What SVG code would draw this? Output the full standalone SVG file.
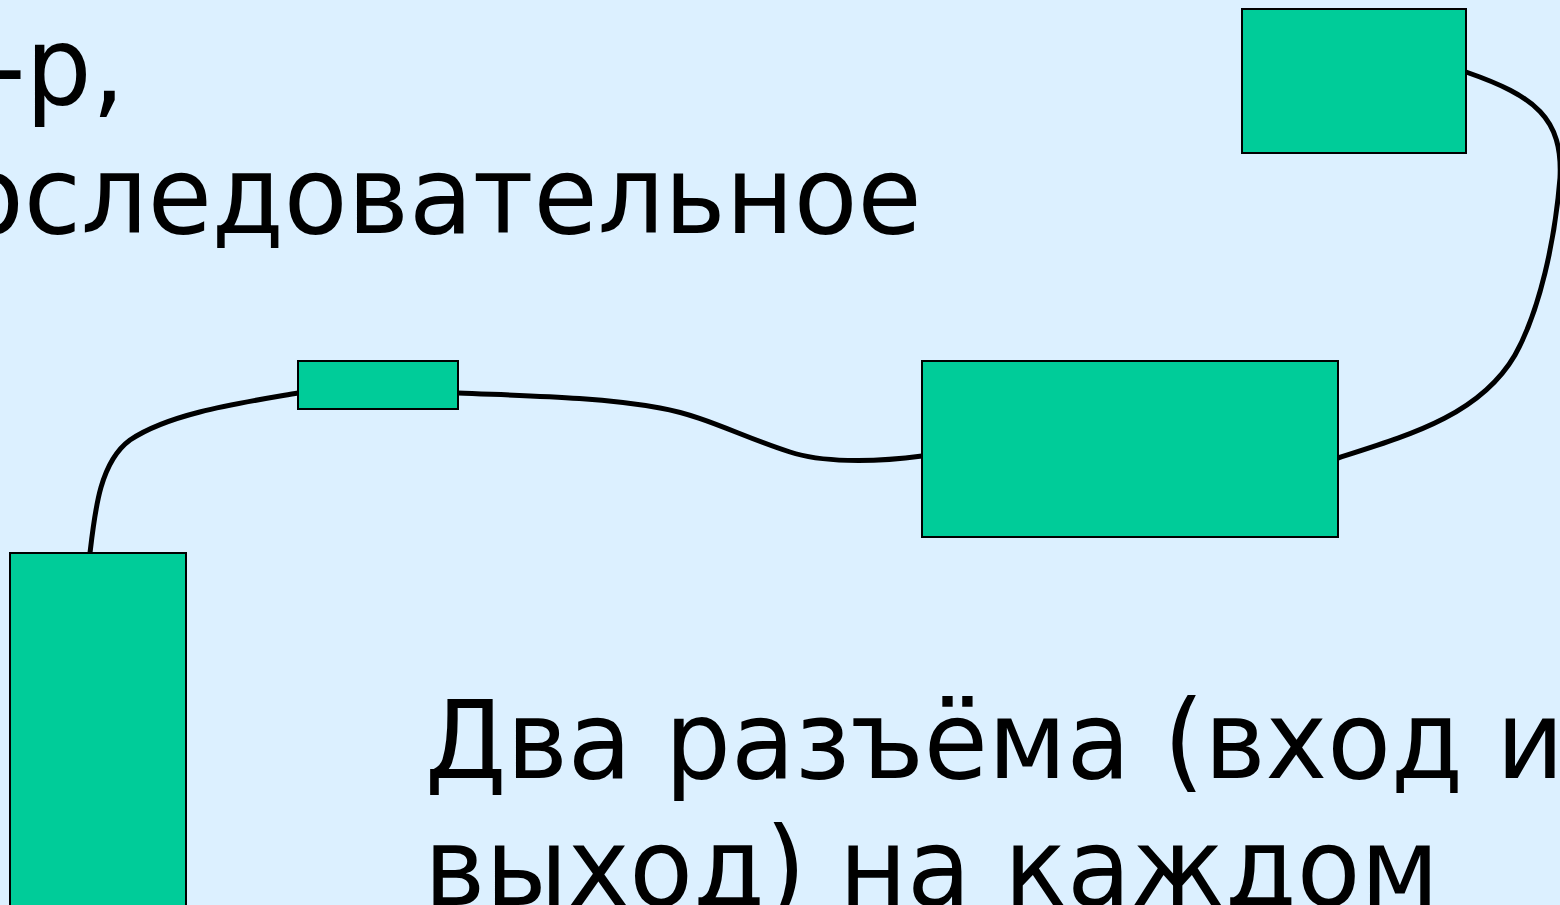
<svg xmlns="http://www.w3.org/2000/svg" width="1560" height="905" viewBox="0 0 1560 905">
<style>
.node{fill:#00cc99;stroke:#000;stroke-width:2}
.t{font-family:"DejaVu Sans","Verdana",sans-serif;font-size:108px;fill:#000}
</style>
<rect x="0" y="0" width="1560" height="905" fill="#dcf0ff"/>
<text class="t" transform="translate(-12 104) scale(0.965 1)">-р,</text>
<text class="t" transform="translate(-40 233) scale(0.965 1)">оследовательное</text>
<text class="t" transform="translate(425 778) scale(0.965 1)">Два разъёма (вход и</text>
<text class="t" transform="translate(424 905) scale(0.965 1)">выход) на каждом</text>
<g id="connectors" fill="none" stroke="#000" stroke-width="5">
<path d="M1466,72 C1535,96 1563,118 1560,178 C1555,240 1540,310 1515,355 C1480,415 1410,435 1338,458"/>
<path d="M922,456 C870,463 820,462 790,452 C740,436 705,416 660,408 C600,397 530,396 458,393"/>
<path d="M298,393 C240,403 170,413 130,440 C100,462 95,510 90,553"/>
</g>
<g id="node-top-right"><rect class="node" x="1242" y="9" width="224" height="144"/></g>
<g id="node-small"><rect class="node" x="298" y="361" width="160" height="48"/></g>
<g id="node-middle"><rect class="node" x="922" y="361" width="416" height="176"/></g>
<g id="node-bottom-left"><rect class="node" x="10" y="553" width="176" height="360"/></g>
</svg>
